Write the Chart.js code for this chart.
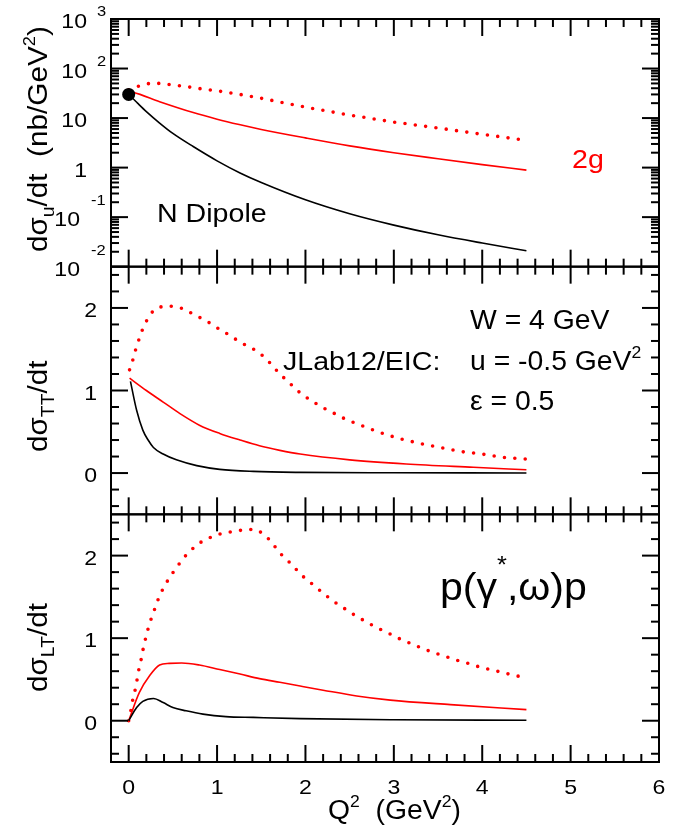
<!DOCTYPE html>
<html>
<head>
<meta charset="utf-8">
<script src="https://cdn.jsdelivr.net/npm/chart.js@4.4.0/dist/chart.umd.min.js"></script>
<style>
  html, body { margin: 0; padding: 0; background: #fff; }
  #wrap { width: 694px; height: 833px; }
</style>
</head>
<body>
<div id="wrap"><canvas id="chart" width="694" height="833"></canvas></div>
<script>
// ---- values ----
const xTicks = [0, 1, 2, 3, 4, 5, 6];
const logTickExps = [-2, -1, 0, 1, 2, 3];
const linTicks = [0, 1, 2];

// top panel: dsigma_u/dt (nb/GeV^2), log scale
const dotQ2 = [0];
const dotSigma = [30];
const uQ2Black = [0, 0.05, 0.1, 0.2, 0.35, 0.5, 0.73, 1.0, 1.26, 1.5, 2.0, 2.5, 3.0, 3.5, 4.0, 4.5];
const uBlack = [29.5, 24.5, 20.0, 13.5, 7.94, 4.9, 2.66, 1.37, 0.78, 0.50, 0.224, 0.117, 0.069, 0.044, 0.030, 0.021];
const uQ2Red = [0, 0.05, 0.35, 0.73, 1.0, 1.25, 1.5, 2.0, 2.5, 3.0, 3.5, 4.0, 4.5];
const uRed = [34, 33, 21.4, 12.9, 9.5, 7.4, 5.9, 3.98, 2.75, 2.0, 1.51, 1.15, 0.89];
const uQ2Dot = [0, 0.15, 0.27, 0.4, 0.5, 0.63, 0.75, 0.86, 1.0, 1.22, 1.5, 2.0, 2.5, 3.0, 3.5, 4.0, 4.5];
const uDot = [37, 46.8, 51.3, 49, 46.8, 43.7, 40.7, 38, 35.5, 30.9, 25.1, 16.6, 11.5, 8.3, 6.3, 4.7, 3.55];

// middle panel: dsigma_TT/dt
const ttQ2Black = [0.02, 0.09, 0.16, 0.22, 0.28, 0.39, 0.54, 0.77, 1.03, 1.41, 1.94, 3.0, 4.5];
const ttBlack = [1.11, 0.76, 0.52, 0.40, 0.31, 0.23, 0.16, 0.09, 0.045, 0.02, 0.008, 0.003, 0.001];
const ttQ2Red = [0.01, 0.2, 0.39, 0.58, 0.8, 1.03, 1.26, 1.48, 1.71, 1.94, 2.5, 3.14, 3.9, 4.5];
const ttRed = [1.15, 1.0, 0.86, 0.72, 0.58, 0.48, 0.40, 0.33, 0.275, 0.23, 0.16, 0.11, 0.07, 0.04];
const ttQ2Dot = [0.01, 0.05, 0.08, 0.12, 0.16, 0.21, 0.28, 0.38, 0.50, 0.62, 0.72, 0.83, 0.93, 1.03, 1.14, 1.24, 1.34, 1.45, 1.54, 1.62, 1.70, 1.79, 1.88, 1.97, 2.07, 2.16, 2.28, 2.38, 2.48, 2.6, 2.82, 3.05, 3.29, 3.52, 3.76, 4.0, 4.24, 4.5];
const ttDot = [1.25, 1.38, 1.50, 1.63, 1.75, 1.86, 1.97, 2.02, 2.02, 1.99, 1.93, 1.87, 1.81, 1.74, 1.67, 1.60, 1.54, 1.48, 1.40, 1.31, 1.21, 1.12, 1.03, 0.94, 0.88, 0.81, 0.75, 0.69, 0.64, 0.59, 0.50, 0.42, 0.36, 0.31, 0.26, 0.23, 0.19, 0.17];

// bottom panel: dsigma_LT/dt
const ltQ2Black = [0, 0.09, 0.16, 0.28, 0.39, 0.5, 0.65, 0.84, 1.1, 1.41, 1.94, 3.0, 4.5];
const ltBlack = [0, 0.16, 0.235, 0.27, 0.22, 0.16, 0.12, 0.08, 0.05, 0.04, 0.025, 0.012, 0.005];
const ltQ2Red = [0, 0.12, 0.24, 0.35, 0.46, 0.6, 0.8, 1.03, 1.26, 1.48, 1.71, 1.94, 2.2, 2.58, 2.96, 3.64, 4.5];
const ltRed = [0, 0.34, 0.55, 0.675, 0.695, 0.70, 0.675, 0.62, 0.565, 0.51, 0.465, 0.42, 0.37, 0.30, 0.25, 0.195, 0.135];
const ltQ2Dot = [0, 0.03, 0.05, 0.08, 0.10, 0.12, 0.15, 0.17, 0.20, 0.23, 0.27, 0.31, 0.35, 0.41, 0.47, 0.54, 0.61, 0.69, 0.78, 0.88, 0.99, 1.11, 1.23, 1.35, 1.46, 1.56, 1.64, 1.71, 1.80, 1.88, 1.97, 2.06, 2.15, 2.24, 2.34, 2.44, 2.54, 2.65, 2.75, 2.86, 2.96, 3.07, 3.18, 3.29, 3.41, 3.52, 3.64, 3.75, 3.86, 3.97, 4.09, 4.21, 4.32, 4.45, 4.5];
const ltDot = [0, 0.15, 0.28, 0.40, 0.53, 0.65, 0.78, 0.91, 1.03, 1.16, 1.28, 1.40, 1.52, 1.64, 1.75, 1.85, 1.96, 2.05, 2.14, 2.20, 2.25, 2.28, 2.30, 2.32, 2.31, 2.23, 2.13, 2.03, 1.94, 1.85, 1.75, 1.67, 1.59, 1.51, 1.43, 1.36, 1.29, 1.22, 1.16, 1.10, 1.05, 0.99, 0.94, 0.89, 0.84, 0.80, 0.76, 0.72, 0.69, 0.65, 0.62, 0.59, 0.56, 0.53, 0.52];

const RED = '#ff0000';
const FONT = '"Liberation Sans", Arial, Helvetica, sans-serif';

const pts = (xs, ys) => xs.map((x, i) => ({ x, y: ys[i] }));

function solid(xs, ys, color, axis) {
    return {
        data: pts(xs, ys), yAxisID: axis, borderColor: color, borderWidth: 1.6,
        pointRadius: 0, cubicInterpolationMode: 'monotone', fill: false
    };
}

function dotted(xs, ys, axis) {
    return {
        data: pts(xs, ys), yAxisID: axis, borderColor: RED, borderWidth: 3.6,
        borderDash: [0, 10.4], borderCapStyle: 'round', pointRadius: 0, tension: 0, fill: false
    };
}

// text with sub/superscripts, optionally rotated; sx stretches along the text direction
function drawParts(ctx, parts, x, y, size, o = {}) {
    const sx = o.sx || 1.1;
    const align = o.align || 'left';
    ctx.save();
    ctx.fillStyle = o.color || '#000';
    ctx.textBaseline = 'alphabetic';
    ctx.textAlign = 'left';
    const spec = parts.map(p => {
        const [t, kind, dyo] = Array.isArray(p) ? p : [p, ''];
        let fs = size, dy = 0;
        if (kind === 'sub') { fs = size * 0.65; dy = size * 0.25; }
        if (kind === 'sup') { fs = size * 0.62; dy = -size * 0.45; }
        if (dyo !== undefined) dy = dyo;
        ctx.font = fs + 'px ' + FONT;
        return { t, fs, dy, w: ctx.measureText(t).width };
    });
    const total = spec.reduce((a, s) => a + s.w, 0);
    ctx.translate(x, y);
    if (o.rot) ctx.rotate(o.rot);
    ctx.scale(sx, 1);
    let cx = align === 'right' ? -total : align === 'center' ? -total / 2 : 0;
    spec.forEach(s => {
        ctx.font = s.fs + 'px ' + FONT;
        ctx.fillText(s.t, cx, s.dy);
        cx += s.w;
    });
    ctx.restore();
}

function line(ctx, x1, y1, x2, y2) {
    ctx.beginPath();
    ctx.moveTo(x1, y1);
    ctx.lineTo(x2, y2);
    ctx.stroke();
}

const MAJ = 17, MIN = 8;

// frames, inward ticks, tick labels and annotations
const framePlugin = {
    id: 'frame',
    afterDatasetsDraw(chart) {
        const ctx = chart.ctx;
        const xs = chart.scales.x;
        const { left, right } = chart.chartArea;
        ctx.save();
        ctx.strokeStyle = '#000';
        ctx.lineWidth = 2;

        const xMinor = [];
        xTicks.slice(0, -1).forEach(v => { for (let k = 1; k < 5; k++) xMinor.push(v + k * 0.2); });

        ['yTop', 'yMid', 'yBot'].forEach(id => {
            const s = chart.scales[id];
            const top = s.top, bottom = s.bottom;
            ctx.strokeRect(left, top, right - left, bottom - top);

            xTicks.forEach(v => {
                const px = xs.getPixelForValue(v);
                line(ctx, px, top, px, top + MAJ);
                line(ctx, px, bottom, px, bottom - MAJ);
            });
            xMinor.forEach(v => {
                const px = xs.getPixelForValue(v);
                line(ctx, px, top, px, top + MIN);
                line(ctx, px, bottom, px, bottom - MIN);
            });

            let majors = [], minors = [];
            if (id === 'yTop') {
                majors = logTickExps.map(e => Math.pow(10, e));
                logTickExps.slice(0, -1).forEach(e => { for (let m = 2; m < 10; m++) minors.push(m * Math.pow(10, e)); });
            } else {
                majors = linTicks;
                for (let k = -2; k <= 12; k++) { if (k % 5 !== 0) minors.push(k * 0.2); }
            }
            majors.forEach(v => {
                const py = s.getPixelForValue(v);
                line(ctx, left, py, left + MAJ, py);
                line(ctx, right, py, right - MAJ, py);
            });
            minors.forEach(v => {
                const py = s.getPixelForValue(v);
                line(ctx, left, py, left + MIN, py);
                line(ctx, right, py, right - MIN, py);
            });

            // y tick labels
            if (id === 'yTop') {
                logTickExps.forEach(e => {
                    const py = s.getPixelForValue(Math.pow(10, e));
                    if (e === 0) drawParts(ctx, ['1'], 87, py + 9, 21, { align: 'right' });
                    else if (e === 1) drawParts(ctx, ['10'], 87, py + 9, 21, { align: 'right' });
                    else {
                        drawParts(ctx, ['10'], e < 0 ? 80 : 87, py + 9, 21, { align: 'right' });
                        drawParts(ctx, [String(e)], e < 0 ? 91 : 97, py - (e < 0 ? 17 : 8) + 5, 15);
                    }
                });
            } else {
                linTicks.forEach(v => {
                    drawParts(ctx, [String(v)], 97, s.getPixelForValue(v) + 9, 21, { align: 'right' });
                });
            }
        });

        // x tick labels
        const yb = chart.scales.yBot.bottom;
        xTicks.forEach(v => drawParts(ctx, [String(v)], xs.getPixelForValue(v), yb + 32, 21, { align: 'center' }));

        // axis titles
        drawParts(ctx, ['Q', ['2', 'sup'], '  (GeV', ['2', 'sup'], ')'], 328, 819, 27, { sx: 1.05 });
        const R = -Math.PI / 2;
        drawParts(ctx, ['d\u03c3', ['u', 'sub'], '/dt', '  (nb/GeV', ['2', 'sup'], ')'], 47, 252, 27, { rot: R, sx: 1.1 });
        drawParts(ctx, ['d\u03c3', ['TT', 'sub'], '/dt'], 47, 452, 27, { rot: R, sx: 1.1 });
        drawParts(ctx, ['d\u03c3', ['LT', 'sub'], '/dt'], 47, 692, 27, { rot: R, sx: 1.1 });

        // annotations
        drawParts(ctx, ['N Dipole'], 157, 222, 26);
        drawParts(ctx, ['2g'], 572, 168, 26, { color: RED });
        drawParts(ctx, ['JLab12/EIC:'], 283, 370, 26);
        drawParts(ctx, ['W = 4 GeV'], 470, 329, 27, { sx: 1.05 });
        drawParts(ctx, ['u = -0.5 GeV', ['2', 'sup']], 470, 370, 27, { sx: 1.05 });
        drawParts(ctx, ['\u03b5 = 0.5'], 470, 410, 27, { sx: 1.05 });
        drawParts(ctx, ['p(\u03b3', ['*', 'sup', -27], ',\u03c9)p'], 440, 600, 38, { sx: 1.08 });

        ctx.restore();
    }
};

const fixW = w => s => { s.width = w; };

// stacked y axes are laid out bottom-up in definition order
new Chart(document.getElementById('chart'), {
    type: 'line',
    data: {
        datasets: [
            { data: pts(dotQ2, dotSigma), yAxisID: 'yTop', showLine: false, pointRadius: 6.5,
              pointBackgroundColor: '#000', pointBorderColor: '#000', pointBorderWidth: 0 },
            solid(uQ2Black, uBlack, '#000', 'yTop'),
            solid(uQ2Red, uRed, RED, 'yTop'),
            dotted(uQ2Dot, uDot, 'yTop'),
            solid(ttQ2Black, ttBlack, '#000', 'yMid'),
            solid(ttQ2Red, ttRed, RED, 'yMid'),
            dotted(ttQ2Dot, ttDot, 'yMid'),
            solid(ltQ2Black, ltBlack, '#000', 'yBot'),
            solid(ltQ2Red, ltRed, RED, 'yBot'),
            dotted(ltQ2Dot, ltDot, 'yBot')
        ]
    },
    options: {
        responsive: false,
        animation: false,
        devicePixelRatio: 1,
        events: [],
        layout: { padding: { top: 19, right: 35, left: 0, bottom: 0 } },
        plugins: { legend: { display: false }, tooltip: { enabled: false } },
        scales: {
            x: {
                type: 'linear', min: -0.2, max: 6,
                grid: { display: false }, border: { display: false },
                ticks: { display: false },
                afterFit: s => { s.height = 71; }
            },
            yBot: {
                type: 'linear', min: -0.5, max: 2.5, position: 'left',
                stack: 'panels', stackWeight: 1,
                grid: { display: false }, border: { display: false }, ticks: { display: false },
                afterFit: fixW(111)
            },
            yMid: {
                type: 'linear', min: -0.5, max: 2.5, position: 'left',
                stack: 'panels', stackWeight: 1,
                grid: { display: false }, border: { display: false }, ticks: { display: false },
                afterFit: fixW(111)
            },
            yTop: {
                type: 'logarithmic', min: 0.01, max: 1000, position: 'left',
                stack: 'panels', stackWeight: 1,
                grid: { display: false }, border: { display: false }, ticks: { display: false },
                afterFit: fixW(111)
            }
        }
    },
    plugins: [framePlugin]
});
</script>
</body>
</html>
